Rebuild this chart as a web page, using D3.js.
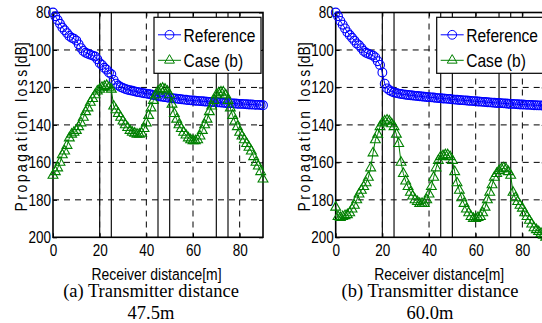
<!DOCTYPE html>
<html><head><meta charset="utf-8">
<script src="https://cdn.jsdelivr.net/npm/d3@7"></script>
<style>
html,body{margin:0;padding:0;background:#fff;}
svg{display:block;}
</style></head>
<body>
<svg id="chart" width="542" height="323"></svg>
<script>
// Receiver distance [m]
const distances = [0,1,2,3,4,5,6,7,8,9,10,11,12,13,14,15,16,17,18,19,20,21,22,23,24,25,26,27,28,29,30,31,32,33,34,35,36,37,38,39,40,41,42,43,44,45,46,47,48,49,50,51,52,53,54,55,56,57,58,59,60,61,62,63,64,65,66,67,68,69,70,71,72,73,74,75,76,77,78,79,80,81,82,83,84,85,86,87,88,89,90];

// (a) Transmitter distance 47.5 m
const referenceA = [80,82,84,86,88,89.5,91,92.5,93.5,94,
  95,97,99,100.5,101.5,102,102.5,103,103.5,105,
  107,108,109.5,110.5,112,113,116,118,119,119.8,
  120.3,120.8,121.2,121.5,121.8,122.1,122.4,122.6,122.9,123.1,
  123.3,123.5,123.8,124.1,124.3,124.6,124.8,125,125.2,125.4,
  125.6,125.7,125.9,126,126.2,126.3,126.5,126.6,126.8,126.9,
  127,127.1,127.2,127.3,127.4,127.5,127.6,127.7,127.8,127.8,
  127.9,128,128.1,128.2,128.3,128.4,128.4,128.5,128.6,128.7,
  128.8,128.8,128.9,129,129.1,129.1,129.2,129.3,129.3,129.4,129.5];
const caseA = [167,165,163,160,156,154,151,147,145,144,
  143,141,139,136,133,131,128,126,124,122,
  121,120,119.5,119,120,121,130,132,134,136,
  138,140,141.5,143,144,144.5,145,145,144.5,142,
  139,135,131,127,124,122,121,120.5,121,122,
  124,129,134,137,140,142,144,145.5,147,148,
  148.5,148.5,148,146,143,140,137,133,130,127,
  124,123,122.5,122.5,124,127,131,135,138,141,
  144,146,148,150,152,154,157,160,162,165,169];

// (b) Transmitter distance 60.0 m
const referenceB = [80,82,84.5,86.5,88.5,90.5,92,93.5,95,96.5,
  97.5,99,100.5,101.5,102,102.5,103,104,106,108,
  112,118,120.5,121.5,122.2,122.7,123,123.3,123.5,123.7,
  123.9,124,124.2,124.3,124.5,124.6,124.7,124.8,125,125.1,
  125.2,125.3,125.4,125.6,125.7,125.8,125.9,126,126.1,126.2,
  126.4,126.5,126.6,126.7,126.8,126.9,127,127.1,127.2,127.3,
  127.4,127.5,127.6,127.7,127.8,127.9,128,128.1,128.2,128.3,
  128.3,128.4,128.5,128.6,128.7,128.8,128.8,128.9,129,129.1,
  129.1,129.2,129.3,129.3,129.4,129.5,129.5,129.6,129.6,129.7,129.8];
const caseB = [184,189,189.5,189,188.5,188,187,185,183,180,
  177,175,173,171,168,163,155,148,145,141,
  139,138,137.5,138,139.5,141,145,150,160,166,
  170,173,176,178,180,181,182,182,182,180,
  177,173,168,163,159,157,156.5,156,156,157,
  159,165,171,175,179,182,185,187,189,190,
  190,189.5,189,187,184,180,176,172,168,166,
  164.5,163.5,163,163.5,165,167,176,179,181,183,
  184.5,187,189,191,193,195,196,197,198,199,200];

const xTicks = [0,20,40,60,80];
const yTicks = [80,100,120,140,160,180,200];
const gridX = [20,40,60,80];
const gridY = [100,120,140,160,180];
const wallLines = [20,25,45,50,70,75];
const legendLabels = ["Reference","Case (b)"];
const panelCaptions = [["(a) Transmitter distance","47.5m"],["(b) Transmitter distance","60.0m"]];
const xLabel = "Receiver distance[m]";
const yLabelMain = "Propagation loss";
const yLabelUnit = "[dB]";

const BLUE = "#0000ff", GREEN = "#008000";
const SANS = "'Liberation Sans',Arial,sans-serif";
const SERIF = "'Liberation Serif','Times New Roman',serif";
const SX = 0.82; // narrow look

const svg = d3.select("#chart");

function narrowText(parent, x, y, str, size, anchor, rot) {
  return parent.append("text")
    .attr("transform", `translate(${x},${y})${rot ? ` rotate(${rot})` : ""} scale(${SX},1)`)
    .attr("text-anchor", anchor || "start")
    .attr("font-family", SANS).attr("font-size", size).attr("fill", "#000")
    .text(str);
}

const panels = [
  {left:53, right:263, ref:referenceA, cas:caseA, cap:panelCaptions[0], capX:151, ylabX:27},
  {left:335.7, right:545.7, ref:referenceB, cas:caseB, cap:panelCaptions[1], capX:430, ylabX:310}
];
const TOP = 12.5, BOTTOM = 237.3;

panels.forEach(p => {
  const x = d3.scaleLinear().domain([0,90]).range([p.left,p.right]);
  const y = d3.scaleLinear().domain([80,200]).range([TOP,BOTTOM]);
  const g = svg.append("g");

  // grid
  g.selectAll(".gx").data(gridX).join("line")
    .attr("x1", d=>x(d)).attr("x2", d=>x(d)).attr("y1", TOP).attr("y2", BOTTOM)
    .attr("stroke","#000").attr("stroke-width",1).attr("stroke-dasharray","6,5");
  g.selectAll(".gy").data(gridY).join("line")
    .attr("x1", p.left).attr("x2", p.right).attr("y1", d=>y(d)).attr("y2", d=>y(d))
    .attr("stroke","#000").attr("stroke-width",1).attr("stroke-dasharray","6,5");

  // wall lines
  g.selectAll(".wl").data(wallLines).join("line")
    .attr("x1", d=>x(d)).attr("x2", d=>x(d)).attr("y1", TOP).attr("y2", BOTTOM)
    .attr("stroke","#111").attr("stroke-width",1.2);

  // axes
  const fmt = d3.format("d");
  const ax = g.append("g").attr("transform",`translate(0,${BOTTOM})`)
    .call(d3.axisBottom(x).tickValues(xTicks).tickSize(-4).tickPadding(7).tickFormat(fmt));
  const ay = g.append("g").attr("transform",`translate(${p.left},0)`)
    .call(d3.axisLeft(y).tickValues(yTicks).tickSize(-4).tickPadding(2).tickFormat(fmt));
  g.append("g").attr("transform",`translate(0,${TOP})`)
    .call(d3.axisTop(x).tickValues(xTicks).tickSize(-4).tickFormat(""));
  g.append("g").attr("transform",`translate(${p.right},0)`)
    .call(d3.axisRight(y).tickValues(yTicks).tickSize(-4).tickFormat(""));
  g.selectAll(".domain").remove();
  g.selectAll(".tick line").attr("stroke","#000");
  [ax,ay].forEach(a => a.selectAll("text")
    .attr("font-family",SANS).attr("font-size",16.5).attr("fill","#000")
    .attr("x", function(){ const v = +d3.select(this).attr("x") || 0; return v / SX; })
    .attr("transform",`scale(${SX},1)`));

  // frame
  g.append("rect").attr("x",p.left).attr("y",TOP)
    .attr("width",p.right-p.left).attr("height",BOTTOM-TOP)
    .attr("fill","none").attr("stroke","#000").attr("stroke-width",1.6);

  // series points
  const pts = (vals) => distances.map((d,i)=>[x(d), y(vals[i])]);
  const line = d3.line();
  // Reference
  g.append("path").attr("d", line(pts(p.ref))).attr("fill","none")
    .attr("stroke",BLUE).attr("stroke-width",1);
  g.selectAll(".c").data(pts(p.ref)).join("circle")
    .attr("cx",d=>d[0]).attr("cy",d=>d[1]).attr("r",4.4)
    .attr("fill","none").attr("stroke",BLUE).attr("stroke-width",1.1);
  // Case (b)
  g.append("path").attr("d", line(pts(p.cas))).attr("fill","none")
    .attr("stroke",GREEN).attr("stroke-width",1);
  const tri = d3.symbol().type(d3.symbolTriangle).size(42);
  g.selectAll(".t").data(pts(p.cas)).join("path")
    .attr("d", tri).attr("transform", d=>`translate(${d[0]},${d[1]})`)
    .attr("fill","none").attr("stroke",GREEN).attr("stroke-width",1.1);

  // legend
  const lx = p.left + 101, ly = 17.3, lw = 107, lh = 56;
  const lg = g.append("g");
  lg.append("rect").attr("x",lx).attr("y",ly).attr("width",lw).attr("height",lh)
    .attr("fill","#fff").attr("stroke","#000").attr("stroke-width",1.2);
  const rows = [{label:legendLabels[0], color:BLUE, sym:"c", cy:ly+17.5},
                {label:legendLabels[1], color:GREEN, sym:"t", cy:ly+43}];
  rows.forEach(r => {
    lg.append("line").attr("x1",lx+4).attr("x2",lx+27).attr("y1",r.cy).attr("y2",r.cy)
      .attr("stroke",r.color).attr("stroke-width",1);
    if (r.sym==="c") {
      lg.append("circle").attr("cx",lx+15.5).attr("cy",r.cy).attr("r",4.4)
        .attr("fill","none").attr("stroke",r.color);
    } else {
      lg.append("path").attr("d",tri).attr("transform",`translate(${lx+15.5},${r.cy})`)
        .attr("fill","none").attr("stroke",r.color);
    }
    narrowText(lg, lx+29.5, r.cy+7, r.label, 19, "start");
  });

  // x label
  narrowText(g, (p.left+p.right)/2 - 1.5, 280, xLabel, 17, "middle");

  // y label
  const yl = narrowText(g, p.ylabX, 127, "", 17, "middle", -90);
  yl.append("tspan").attr("letter-spacing","3.1px").text(yLabelMain);
  yl.append("tspan").text(yLabelUnit);

  // caption
  g.append("text").attr("x",p.capX).attr("y",296.5).attr("text-anchor","middle")
    .attr("font-family",SERIF).attr("font-size",18.5).text(p.cap[0]);
  g.append("text").attr("x",p.capX).attr("y",318.5).attr("text-anchor","middle")
    .attr("font-family",SERIF).attr("font-size",18.5).text(p.cap[1]);
});
</script>
</body></html>
